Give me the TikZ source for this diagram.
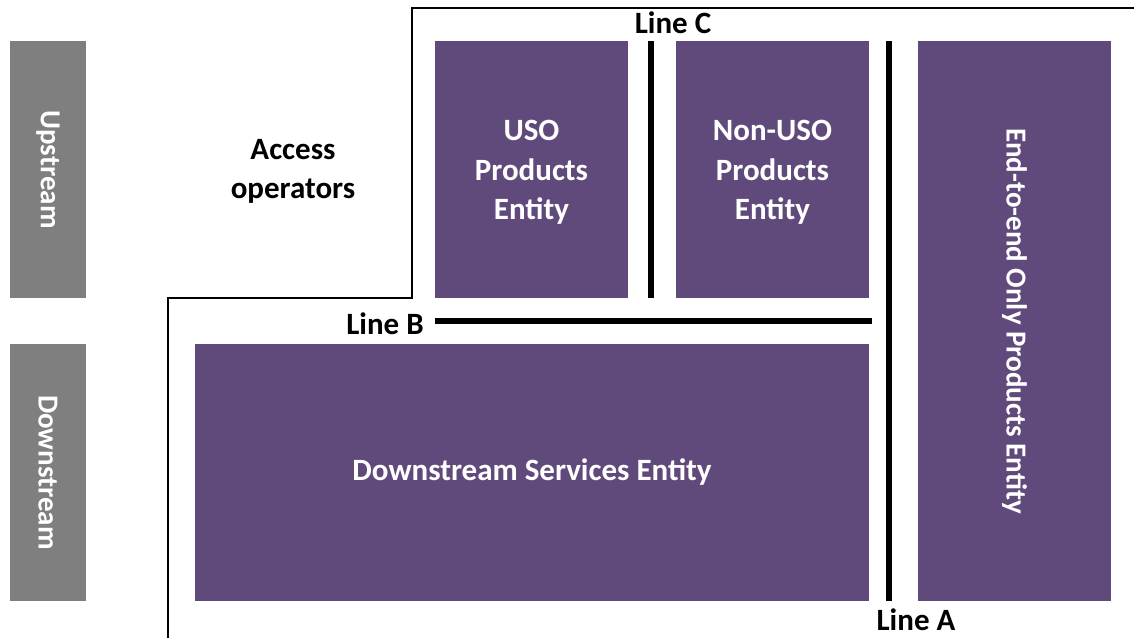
\documentclass[tikz,border=0pt]{standalone}
\usepackage{fontspec}
\setmainfont{Carlito}
\definecolor{entpurple}{HTML}{604A7B}
\definecolor{sidegrey}{HTML}{7F7F7F}
\begin{document}
\begin{tikzpicture}[x=1pt,y=-1pt,
  ent/.style={fill=entpurple,draw=none,inner sep=0pt,text=white,font=\fontsize{31}{39.5}\selectfont\bfseries,align=center},
  side/.style={fill=sidegrey,draw=none,inner sep=0pt,minimum width=76pt,minimum height=257pt},
  vtxt/.style={rotate=-90,inner sep=0pt,text=white,font=\fontsize{29}{35}\selectfont\bfseries},
  lbl/.style={inner sep=0pt,text=black,font=\fontsize{31}{39}\selectfont\bfseries,align=center},
  sep/.style={line width=6pt,black},
  frame/.style={line width=2.5pt,black}]
\useasboundingbox (0,0) rectangle (1134,638);
% side bars
\node[side] (up) at (48,169.5) {};
\node[vtxt] (uptxt) at (up.center) {Upstream};
\node[side] (down) at (48,472.5) {};
\node[vtxt] (downtxt) at (down.center) {Downstream};
% entities
\node[ent,minimum width=193pt,minimum height=257pt] (uso) at (531.5,169.5) {};
\node[ent,fill=none] (usotxt) at (531.5,172.5) {USO\\Products\\Entity};
\node[ent,minimum width=193pt,minimum height=257pt] (nonuso) at (772.5,169.5) {};
\node[ent,fill=none] (nonusotxt) at (772.5,172.5) {Non-USO\\Products\\Entity};
\node[ent,minimum width=193pt,minimum height=560pt] (e2e) at (1014.5,321) {};
\node[vtxt] (e2etxt) at (e2e.center) {End-to-end Only Products Entity};
\node[ent,minimum width=674pt,minimum height=257pt] (dse) at (532,472.5) {Downstream Services Entity};
% frame
\coordinate (f1) at (168,638);
\coordinate (f2) at (168,298);
\coordinate (f3) at (412,298);
\coordinate (f4) at (412,8);
\coordinate (f5) at (1134,8);
\draw[frame] (f1) -- (f2) -- (f3) -- (f4) -- (f5);
% separator lines
\coordinate (ca) at (651,41);
\coordinate (cb) at (651,298);
\draw[sep] (ca) -- (cb);
\coordinate (aa) at (889,41);
\coordinate (ab) at (889,601);
\draw[sep] (aa) -- (ab);
\coordinate (ba) at (435,321);
\coordinate (bb) at (872,321);
\draw[sep] (ba) -- (bb);
% labels
\node[lbl] (lc) at (673,23) {Line C};
\node[lbl] (lb) at (385,324) {Line B};
\node[lbl] (la) at (916,620) {Line A};
\node[lbl] (acc) at (293,171) {Access\\operators};
\end{tikzpicture}
\end{document}
